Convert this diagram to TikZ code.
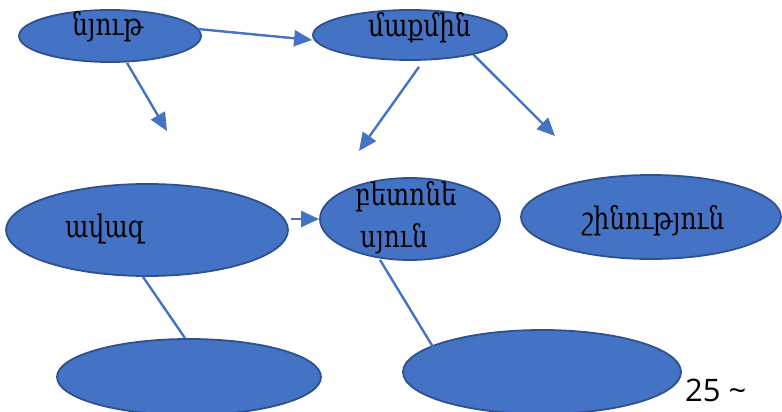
\documentclass[tikz,border=0pt]{standalone}
\usepackage{fontspec}
\setmainfont{DejaVu Serif}
\newfontfamily\armfont[FakeStretch=0.8]{DejaVu Serif}
\newfontfamily\numfont{Open Sans}
\usetikzlibrary{arrows.meta,shapes.geometric}
\definecolor{blobfill}{HTML}{4472C4}
\definecolor{blobedge}{HTML}{2F528F}
\begin{document}
\begin{tikzpicture}[x=1pt,y=-1pt,
  blob/.style={ellipse,fill=blobfill,draw=blobedge,line width=1.8pt,inner sep=0pt},
  link/.style={draw=blobfill,line width=2.4pt},
  arr/.style={link,-{Triangle[length=18pt,width=16pt]}},
  lbl/.style={font=\armfont\fontsize{31}{34}\selectfont,text=black,anchor=base west,inner sep=0pt}]
\useasboundingbox (0,0) rectangle (782,412);
% ellipses
\node[blob,minimum width=182pt,minimum height=52pt] (nyut) at (110,36) {};
\node[blob,minimum width=194pt,minimum height=50pt] (mapmin) at (410,35) {};
\node[blob,minimum width=282pt,minimum height=92pt] (avaz) at (147,230) {};
\node[blob,minimum width=180pt,minimum height=82pt] (beton) at (410,219) {};
\node[blob,minimum width=260pt,minimum height=84pt] (shin) at (651,217) {};
\node[blob,minimum width=264pt,minimum height=76pt] (botl) at (189,377) {};
\node[blob,minimum width=278pt,minimum height=84pt] (botr) at (542,372) {};
% labels
\node[lbl] (tnyut) at (72,36) {նյութ};
\node[lbl] (tmap) at (368,37) {մաքմին};
\node[lbl] (tavaz) at (65,237) {ավազ};
\node[lbl] (tbet1) at (355,205) {բետոնե};
\node[lbl] (tbet2) at (360,247) {սյուն};
\node[lbl] (tshin) at (582,229) {շինություն};
\node[font=\numfont\fontsize{31}{34}\selectfont,anchor=base west,inner sep=0pt] (num) at (685,401) {25 \char"007E};
% free arrow ends
\coordinate (e1) at (167,131);
\coordinate (e2) at (359,151);
\coordinate (e3) at (555,136);
% connectors
\draw[arr] (nyut.east) ++(-4,-7) coordinate (s0) (s0) -- (mapmin.west |- 0,40);
\draw[arr] (nyut.south) ++(17,0) coordinate (s1) (s1) -- (e1);
\draw[arr] (mapmin.south) ++(9,6) coordinate (s2) (s2) -- (e2);
\draw[arr] (mapmin.south east) ++(-6,1) coordinate (s3) (s3) -- (e3);
\draw[arr] (avaz.east) ++(2,-11) coordinate (s4) (s4) -- (beton.west);
\draw[link] (avaz.south) ++(-4,0) coordinate (s5) (s5) -- ([xshift=-4pt]botl.north);
\draw[link] (beton.south) ++(-30,-1) coordinate (s6) (s6) -- (433,347);
\end{tikzpicture}
\end{document}
